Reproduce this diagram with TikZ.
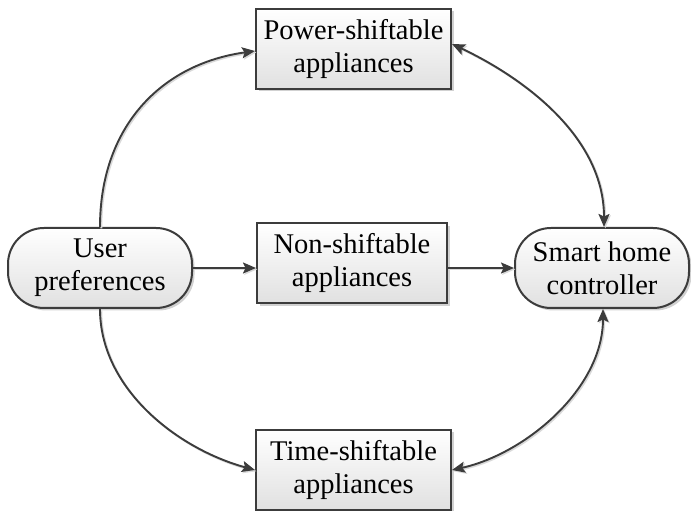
\documentclass[tikz,border=0pt]{standalone}
\usepackage{fontspec}
\setmainfont{Liberation Serif}
\usetikzlibrary{arrows.meta,shadows}
\definecolor{linegray}{HTML}{3C3C3C}
\begin{document}
\begin{tikzpicture}[x=1pt,y=1pt,
  >={Stealth[length=13pt,width=11pt,inset=2.5pt]},
  base/.style={draw=linegray, line width=2pt, top color=white, bottom color=black!12,
    align=center, font=\fontsize{28.5}{33}\selectfont, inner sep=0pt,
    drop shadow={shadow xshift=2.5pt, shadow yshift=-2.5pt, fill=black, opacity=0.18}},
  box/.style={base, rectangle, minimum width=195pt, minimum height=80pt},
  term/.style={base, rectangle, rounded corners=36pt, minimum height=80pt},
  conn/.style={draw=linegray, line width=1.9pt,
    preaction={draw=black!15, line width=1.9pt, transform canvas={xshift=1.3pt,yshift=-1.3pt}}}
]
\useasboundingbox (0,0) rectangle (691,511);

\node[box] (power) at (353.5,462) {Power-shiftable\\appliances};
\node[box, minimum width=190pt] (non) at (352,247.5) {Non-shiftable\\appliances};
\node[box] (time) at (353.5,41) {Time-shiftable\\appliances};
\node[term, minimum width=184pt] (user) at (100,243) {User\\preferences};
\node[term, minimum width=174pt] (smart) at (602,243) {Smart home\\controller};

\draw[conn,->] (user.north) .. controls +(0,100) and +(-94,-13) .. ([yshift=-2pt]power.west);
\draw[conn,<->] ([yshift=5pt]power.east) .. controls +(72,-34) and +(0,90) .. ([xshift=2pt]smart.north);
\draw[conn,->] (user.south) .. controls +(0,-80) and +(-77,21) .. (time.west);
\draw[conn,<->] (time.east) .. controls +(73,16) and +(0,-80) .. ([xshift=1pt]smart.south);
\draw[conn,->] (user.east) -- (user.east -| non.west);
\draw[conn,->] (non.east |- smart.west) -- (smart.west);
\end{tikzpicture}
\end{document}
